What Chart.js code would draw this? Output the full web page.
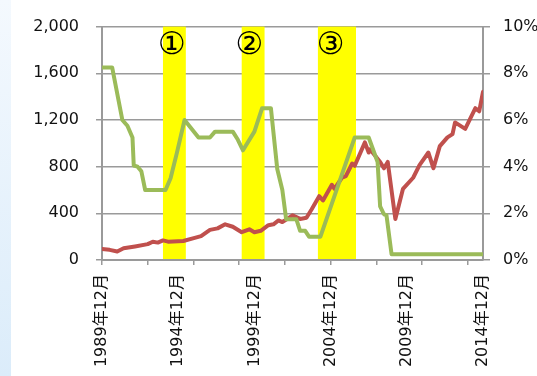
<!DOCTYPE html>
<html><head><meta charset="utf-8">
<script src="https://cdn.jsdelivr.net/npm/chart.js@4/dist/chart.umd.min.js"></script>
<style>
html,body{margin:0;padding:0;background:#fff;}
#wrap{position:relative;width:537px;height:376px;overflow:hidden;background:#fff;}
#strip{position:absolute;left:0;top:0;width:11px;height:376px;background:linear-gradient(#f4f9fe,#dbecfa);}
canvas{position:absolute;left:0;top:0;}
</style></head><body>
<div id="wrap"><div id="strip"></div><canvas id="c" width="537" height="376"></canvas></div>
<script>
// Index level (left axis)
const indexDates = ['1989-12','1990-06','1990-12','1991-05','1992-02','1992-12','1993-04','1993-08','1993-12','1994-04','1995-04','1996-01','1996-06','1997-01','1997-07','1998-01','1998-07','1999-02','1999-08','1999-12','2000-05','2000-11','2001-03','2001-07','2001-10','2002-02','2002-06','2002-12','2003-05','2003-09','2004-03','2004-06','2005-01','2005-03','2005-09','2005-12','2006-05','2006-07','2007-03','2007-06','2007-07','2008-03','2008-06','2008-09','2009-03','2009-09','2010-05','2010-10','2011-05','2011-09','2012-02','2012-08','2012-12','2013-02','2013-10','2014-06','2014-09','2014-12'];
const indexValues = [95,87,73,100,116,136,157,149,168,157,163,190,205,258,271,306,285,238,263,238,250,298,306,339,325,352,383,352,362,433,547,510,645,610,705,718,827,807,1008,921,949,840,786,840,352,610,705,813,921,786,976,1051,1079,1179,1124,1301,1274,1441];

// Policy rate, % (right axis)
const rateDates = ['1989-12','1990-08','1991-04','1991-08','1991-12','1992-01','1992-04','1992-07','1992-10','1994-02','1994-06','1994-11','1995-05','1996-04','1997-01','1997-05','1998-07','1998-11','1999-03','1999-12','2000-06','2001-01','2001-06','2001-10','2002-01','2002-09','2002-12','2003-04','2003-07','2004-04','2006-07','2007-06','2008-01','2008-03','2008-06','2008-08','2008-12','2014-12'];
const rateValues = [8.25,8.25,6.0,5.75,5.25,4.05,4.0,3.8,3.0,3.0,3.5,4.6,6.0,5.25,5.25,5.5,5.5,5.15,4.7,5.5,6.5,6.5,3.9,3.0,1.75,1.75,1.25,1.25,1.0,1.0,5.25,5.25,4.2,2.3,1.96,1.92,0.25,0.25];

// Category axis labels
const axisLabelDates = ['1989-12','1994-12','1999-12','2004-12','2009-12','2014-12'];
const axisLabels = ['1989年12月','1994年12月','1999年12月','2004年12月','2009年12月','2014年12月'];
const leftTicks = [0,400,800,1200,1600,2000];
const rightTicks = [0,2,4,6,8,10];

// Tightening periods
const periodStarts = ['1993-12','1999-02','2004-02'];
const periodEnds = ['1995-06','2000-08','2006-08'];
const periodMarks = ['①','②','③'];
const periodMarkDates = ['1994-07','1999-08','2004-12'];

const toMonth = s => { const [y,m] = s.split('-').map(Number); return (y-1989)*12 + (m-12); };
const GRAY = '#9a9a9a';
const FONT = "'DejaVu Sans','Noto Sans CJK JP',sans-serif";

const periodBands = {
  id: 'periodBands',
  beforeDatasetsDraw(chart) {
    const {ctx, chartArea: a, scales: {x}} = chart;
    ctx.save();
    ctx.fillStyle = '#ffff00';
    periodStarts.forEach((s, i) => {
      const x0 = x.getPixelForValue(toMonth(s));
      const x1 = x.getPixelForValue(toMonth(periodEnds[i]));
      ctx.fillRect(x0, a.top, x1 - x0, a.bottom - a.top - 1);
    });
    ctx.fillStyle = '#000';
    ctx.font = "31px 'DejaVu Sans'";
    ctx.textAlign = 'center';
    ctx.textBaseline = 'middle';
    periodMarks.forEach((m, i) => {
      ctx.fillText(m, x.getPixelForValue(toMonth(periodMarkDates[i])), a.top + 19);
    });
    ctx.restore();
  }
};

const labelAt = {};
axisLabelDates.forEach((d, i) => labelAt[toMonth(d)] = axisLabels[i]);

new Chart(document.getElementById('c'), {
  type: 'line',
  data: {
    datasets: [
      {
        data: rateDates.map((d, i) => ({x: toMonth(d), y: rateValues[i]})),
        yAxisID: 'y1', borderColor: '#9bbb59', borderWidth: 4, pointRadius: 0,
        tension: 0, borderJoinStyle: 'round', borderCapStyle: 'round', order: 0
      },
      {
        data: indexDates.map((d, i) => ({x: toMonth(d), y: indexValues[i]})),
        yAxisID: 'y', borderColor: '#c0504d', borderWidth: 4, pointRadius: 0,
        tension: 0, borderJoinStyle: 'round', borderCapStyle: 'round', order: 1
      }
    ]
  },
  options: {
    responsive: false, animation: false, locale: 'en-US',
    layout: {padding: {top: 14, left: 0, right: 0, bottom: 0}},
    plugins: {legend: {display: false}, tooltip: {enabled: false}},
    scales: {
      x: {
        type: 'linear', min: 0, max: toMonth('2014-12'),
        afterBuildTicks(s) {
          const vals = new Set();
          for (let v = 0; v <= s.max; v += 36) vals.add(v);
          axisLabelDates.forEach(d => vals.add(toMonth(d)));
          s.ticks = [...vals].sort((a, b) => a - b).map(v => ({value: v}));
        },
        afterFit(s) { s.height = 116; },
        ticks: {
          autoSkip: false, minRotation: 90, maxRotation: 90, padding: 9,
          color: '#111', font: {family: FONT, size: 16},
          callback: v => labelAt[v] || ''
        },
        grid: {
          drawOnChartArea: false, tickLength: 5, lineWidth: 1.5,
          color: c => (c.tick && c.tick.value % 36 === 0) ? GRAY : 'rgba(0,0,0,0)'
        },
        border: {color: GRAY, width: 2}
      },
      y: {
        position: 'left', min: 0, max: 2000,
        afterBuildTicks(s) { s.ticks = leftTicks.map(v => ({value: v})); },
        afterFit(s) { s.width = 102; },
        ticks: {padding: 17, color: '#111', font: {family: FONT, size: 16}},
        grid: {color: GRAY, lineWidth: 1.5, tickLength: 6},
        border: {color: GRAY, width: 2}
      },
      y1: {
        position: 'right', min: 0, max: 10,
        afterBuildTicks(s) { s.ticks = rightTicks.map(v => ({value: v})); },
        afterFit(s) { s.width = 54; },
        ticks: {padding: 13, color: '#111', font: {family: FONT, size: 16}, callback: v => v + '%'},
        grid: {drawOnChartArea: false, color: GRAY, lineWidth: 1.5, tickLength: 7},
        border: {color: GRAY, width: 2}
      }
    }
  },
  plugins: [periodBands]
});
</script>
</body></html>
